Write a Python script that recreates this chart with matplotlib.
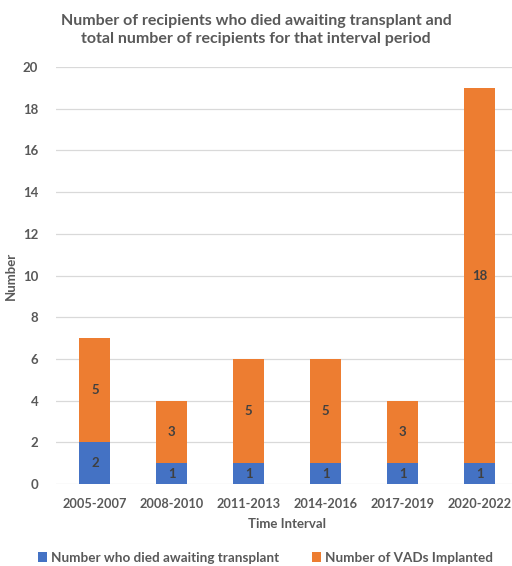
import matplotlib
matplotlib.use("Agg")
import matplotlib.pyplot as plt
import numpy as np

plt.rcParams['font.family'] = ['Lato', 'DejaVu Sans']
plt.rcParams['font.weight'] = 'bold'

categories = ["2005-2007", "2008-2010", "2011-2013", "2014-2016", "2017-2019", "2020-2022"]
died = [2, 1, 1, 1, 1, 1]
vads = [5, 3, 5, 5, 3, 18]
yticks = [0, 2, 4, 6, 8, 10, 12, 14, 16, 18, 20]

blue = "#4472C4"
orange = "#ED7D31"
gray = "#595959"
lab = "#404040"

fig = plt.figure(figsize=(5.12, 5.66), dpi=100)
ax = fig.add_axes([0.11, 0.1449, 0.902, 0.7367])

x = np.arange(len(categories))
w = 0.4
b1 = ax.bar(x, died, w, color=blue, label="Number who died awaiting transplant", zorder=3)
b2 = ax.bar(x, vads, w, bottom=died, color=orange, label="Number of VADs Implanted", zorder=3)

for rect, v in zip(b1, died):
    ax.text(rect.get_x() + rect.get_width() / 2, rect.get_y() + rect.get_height() / 2, str(v),
            ha='center', va='center', fontsize=9.5, color=lab, fontweight='bold', zorder=4)
for rect, v in zip(b2, vads):
    ax.text(rect.get_x() + rect.get_width() / 2, rect.get_y() + rect.get_height() / 2, str(v),
            ha='center', va='center', fontsize=9.5, color=lab, fontweight='bold', zorder=4)

ax.set_xlim(-0.5, len(categories) - 0.5)
ax.set_ylim(0, 20)
ax.set_yticks(yticks)
ax.yaxis.grid(True, color="#D9D9D9", linewidth=0.9, zorder=0)
ax.set_axisbelow(True)
for s in ax.spines.values():
    s.set_visible(False)
ax.tick_params(axis='both', length=0, colors=gray, labelsize=9.5)
ax.tick_params(axis='x', pad=10, labelsize=9.2)
ax.tick_params(axis='y', pad=13)
ax.set_xticks(x)
ax.set_xticklabels(categories, fontweight='bold')
for t in ax.get_yticklabels():
    t.set_fontweight('bold')

ax.set_xlabel("Time Interval", fontsize=9.5, color=gray, fontweight='bold', labelpad=6)
ax.set_ylabel("Number", fontsize=9.5, color=gray, fontweight='bold', labelpad=4)

fig.text(0.5, 0.947, "Number of recipients who died awaiting transplant and\ntotal number of recipients for that interval period",
         ha='center', va='center', fontsize=11.5, color=gray, fontweight='bold', linespacing=1.45)

fig.legend(handles=[b1, b2], loc='center', bbox_to_anchor=(0.519, 0.015), ncol=2, frameon=False,
           labelcolor=gray, handlelength=0.7, handleheight=0.7, columnspacing=2.4,
           handletextpad=0.3, prop={'weight': 'bold', 'size': 9.7})

fig.savefig("out.png", dpi=100)
